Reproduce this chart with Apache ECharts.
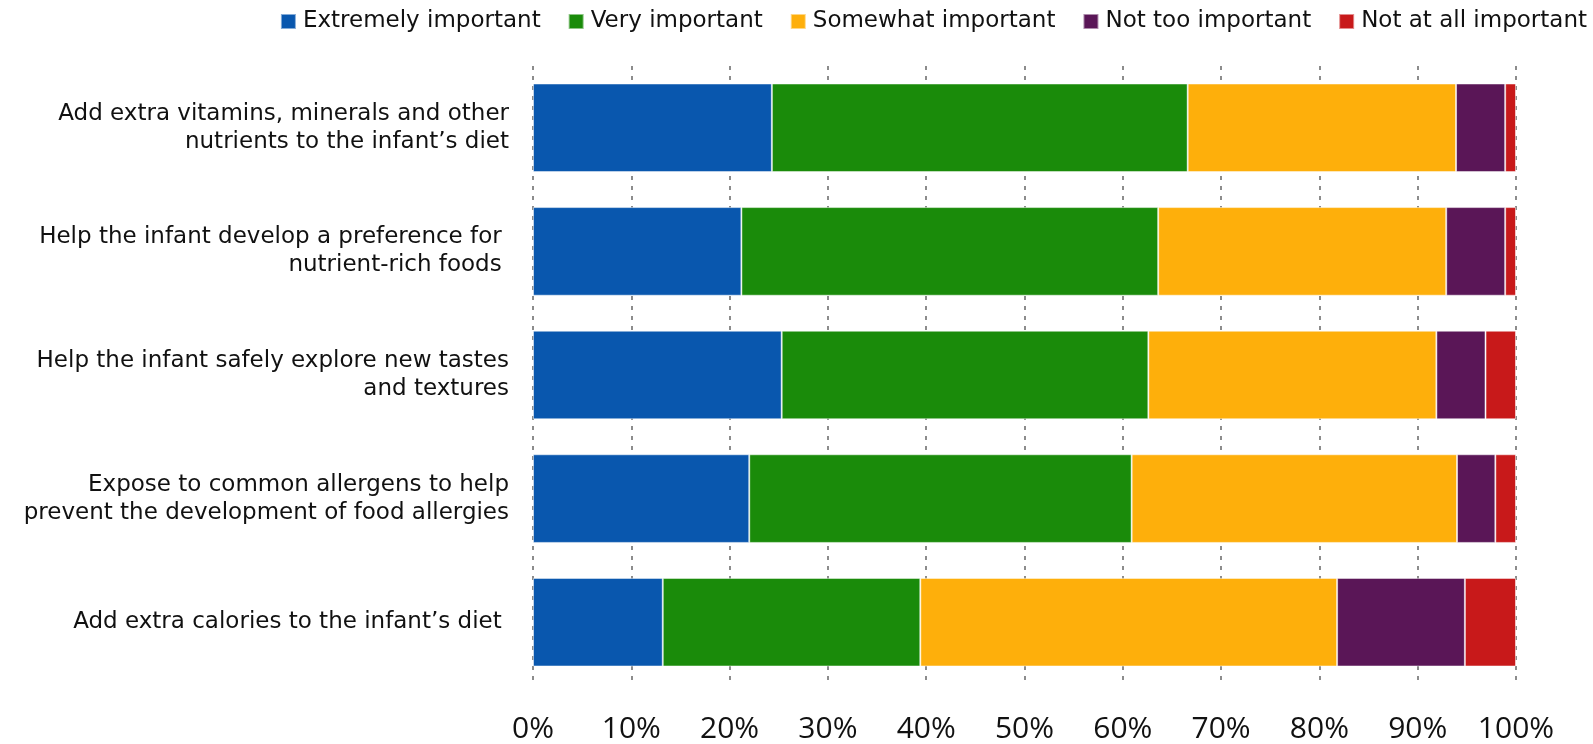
<!DOCTYPE html>
<html>
<head>
<meta charset="utf-8">
<script src="https://cdn.jsdelivr.net/npm/echarts@6/dist/echarts.min.js"></script>
<style>
html,body{margin:0;padding:0;background:#fff;}
#chart{width:1593px;height:744px;}
</style>
</head>
<body>
<div id="chart"></div>
<script>
const categories = [
  "Add extra vitamins, minerals and other\nnutrients to the infant\u2019s diet",
  "Help the infant develop a preference for \nnutrient-rich foods ",
  "Help the infant safely explore new tastes\nand textures",
  "Expose to common allergens to help\nprevent the development of food allergies",
  "Add extra calories to the infant\u2019s diet "
];
const seriesNames = ["Extremely important", "Very important", "Somewhat important", "Not too important", "Not at all important"];
const extremely = [24.3, 21.2, 25.3, 22.0, 13.2];
const very = [42.3, 42.4, 37.3, 38.9, 26.2];
const somewhat = [27.3, 29.3, 29.3, 33.1, 42.4];
const notToo = [5.0, 6.0, 5.0, 3.9, 13.0];
const notAtAll = [1.1, 1.1, 3.1, 2.1, 5.2];
const colors = ['#0957AE', '#1A8B0A', '#FEAF0B', '#5A1657', '#C8191A'];

const values = [extremely, very, somewhat, notToo, notAtAll];
const labelFont = 'Tahoma, "DejaVu Sans", sans-serif';

const chart = echarts.init(document.getElementById('chart'), null, {renderer: 'canvas'});
chart.setOption({
  animation: false,
  color: colors,
  legend: {
    top: 5,
    right: 1,
    itemWidth: 15,
    itemHeight: 15,
    itemGap: 27,
    icon: 'rect',
    textStyle: {fontFamily: labelFont, fontSize: 23, color: '#111', padding: [0, 0, 0, 2]},
    data: seriesNames
  },
  grid: {left: 533, right: 77, top: 66, bottom: 57},
  xAxis: {
    type: 'value',
    min: 0, max: 100, interval: 10,
    axisLine: {show: false},
    axisTick: {show: false},
    axisLabel: {formatter: '{value}%', fontFamily: '"Open Sans", sans-serif', fontSize: 30, color: '#111', margin: 30},
    splitLine: {show: true, lineStyle: {type: [4, 6], width: 2, color: '#8c8c8c'}}
  },
  yAxis: {
    type: 'category',
    inverse: true,
    data: categories,
    axisLine: {show: false},
    axisTick: {show: false},
    axisLabel: {fontFamily: labelFont, fontSize: 23, color: '#111', margin: 24, lineHeight: 28, align: 'right'}
  },
  series: seriesNames.map((name, i) => ({
    name: name,
    type: 'bar',
    stack: 'total',
    barCategoryGap: '28.3%',
    data: values[i],
    itemStyle: {borderColor: 'rgba(255,255,255,0.5)', borderWidth: 1}
  }))
});
</script>
</body>
</html>
